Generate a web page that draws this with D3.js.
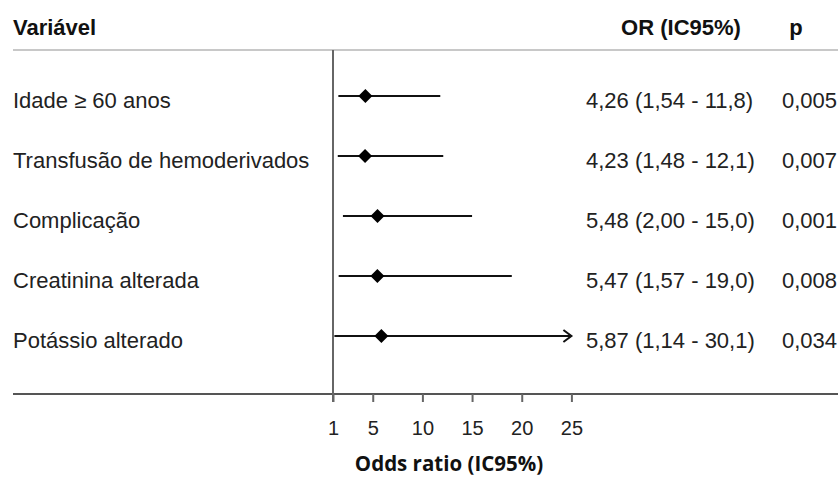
<!DOCTYPE html>
<html>
<head>
<meta charset="utf-8">
<script src="https://cdn.jsdelivr.net/npm/d3@7"></script>
<style>
  body { margin: 0; background: #fff; }
  svg { display: block; font-family: "Liberation Sans", Arial, sans-serif; }
</style>
</head>
<body>
<script>
var variables = ["Idade \u2265 60 anos", "Transfus\u00e3o de hemoderivados", "Complica\u00e7\u00e3o", "Creatinina alterada", "Pot\u00e1ssio alterado"];
var oddsRatio = [4.26, 4.23, 5.48, 5.47, 5.87];
var ciLow = [1.54, 1.48, 2.00, 1.57, 1.14];
var ciHigh = [11.8, 12.1, 15.0, 19.0, 30.1];
var pValues = [0.005, 0.007, 0.001, 0.008, 0.034];
var xTicks = [1, 5, 10, 15, 20, 25];

var w = 838, h = 477;
var xMax = 25;

var locale = d3.formatLocale({decimal: ",", thousands: ".", grouping: [3], currency: ["R$", ""]});
var fmtOR = locale.format(".3r");
var fmtP = locale.format(".3f");

var dataset = variables.map(function (v, i) {
  return {name: v, or: oddsRatio[i], lo: ciLow[i], hi: ciHigh[i], p: pValues[i]};
});

var svg = d3.select("body").append("svg")
  .attr("width", w)
  .attr("height", h);

var xScale = d3.scaleLinear().domain([1, 25]).range([333, 571.4]);
var yScale = d3.scaleBand().domain(variables).range([66, 366]);

function rowY(d) { return yScale(d.name) + yScale.bandwidth() / 2; }

// headers
svg.append("text").attr("x", 13).attr("y", 35).attr("font-size", 22).attr("font-weight", "bold")
  .attr("fill", "#111").text("Vari\u00e1vel");
svg.append("text").attr("x", 681).attr("y", 35).attr("font-size", 22).attr("font-weight", "bold")
  .attr("text-anchor", "middle").attr("fill", "#111").text("OR (IC95%)");
svg.append("text").attr("x", 796).attr("y", 35).attr("font-size", 22).attr("font-weight", "bold")
  .attr("text-anchor", "middle").attr("fill", "#111").text("p");

// top & bottom rules
svg.append("line").attr("x1", 13).attr("x2", w).attr("y1", 50).attr("y2", 50)
  .attr("stroke", "#c8c8c8").attr("stroke-width", 2);
svg.append("line").attr("x1", 13).attr("x2", w).attr("y1", 394).attr("y2", 394)
  .attr("stroke", "#555").attr("stroke-width", 2);

// vertical reference line at OR = 1
svg.append("line").attr("x1", xScale(1)).attr("x2", xScale(1)).attr("y1", 50).attr("y2", 402)
  .attr("stroke", "#666").attr("stroke-width", 2);

// x axis
var xAxis = d3.axisBottom(xScale).tickValues(xTicks).tickSize(8).tickPadding(19);
var gx = svg.append("g").attr("transform", "translate(0,394)").call(xAxis);
gx.select(".domain").remove();
gx.selectAll(".tick line").attr("stroke", "#666").attr("stroke-width", 2);
gx.selectAll(".tick text").attr("font-size", 20).attr("fill", "#222")
  .attr("font-family", "'Liberation Sans', Arial, sans-serif");

svg.append("text").attr("x", 449).attr("y", 471).attr("text-anchor", "middle")
  .attr("font-family", "'Open Sans', sans-serif").attr("font-weight", "bold").attr("font-size", 20.5)
  .attr("fill", "#111").text("Odds ratio (IC95%)");

// rows
var rows = svg.selectAll(".row").data(dataset).enter().append("g").attr("class", "row");

rows.append("text").attr("x", 13).attr("y", function (d) { return rowY(d) + 12; })
  .attr("font-size", 22).attr("fill", "#222").text(function (d) { return d.name; });

rows.append("line")
  .attr("x1", function (d) { return xScale(d.lo); })
  .attr("x2", function (d) { return xScale(Math.min(d.hi, xMax)); })
  .attr("y1", rowY).attr("y2", rowY)
  .attr("stroke", "#111").attr("stroke-width", 2);

// arrow for CIs that go past the axis
rows.filter(function (d) { return d.hi > xMax; }).append("path")
  .attr("d", function (d) {
    var x = xScale(xMax), y = rowY(d);
    return "M" + (x - 8) + "," + (y - 6) + "L" + x + "," + y + "L" + (x - 8) + "," + (y + 6);
  })
  .attr("fill", "none").attr("stroke", "#111").attr("stroke-width", 2);

rows.append("path")
  .attr("d", d3.symbol().type(d3.symbolDiamond2).size(125))
  .attr("transform", function (d) { return "translate(" + xScale(d.or) + "," + rowY(d) + ")"; })
  .attr("fill", "#000");

rows.append("text").attr("x", 586).attr("y", function (d) { return rowY(d) + 12; })
  .attr("font-size", 22).attr("fill", "#222")
  .text(function (d) { return fmtOR(d.or) + " (" + fmtOR(d.lo) + " - " + fmtOR(d.hi) + ")"; });

rows.append("text").attr("x", 782).attr("y", function (d) { return rowY(d) + 12; })
  .attr("font-size", 22).attr("fill", "#222")
  .text(function (d) { return fmtP(d.p); });
</script>
</body>
</html>
